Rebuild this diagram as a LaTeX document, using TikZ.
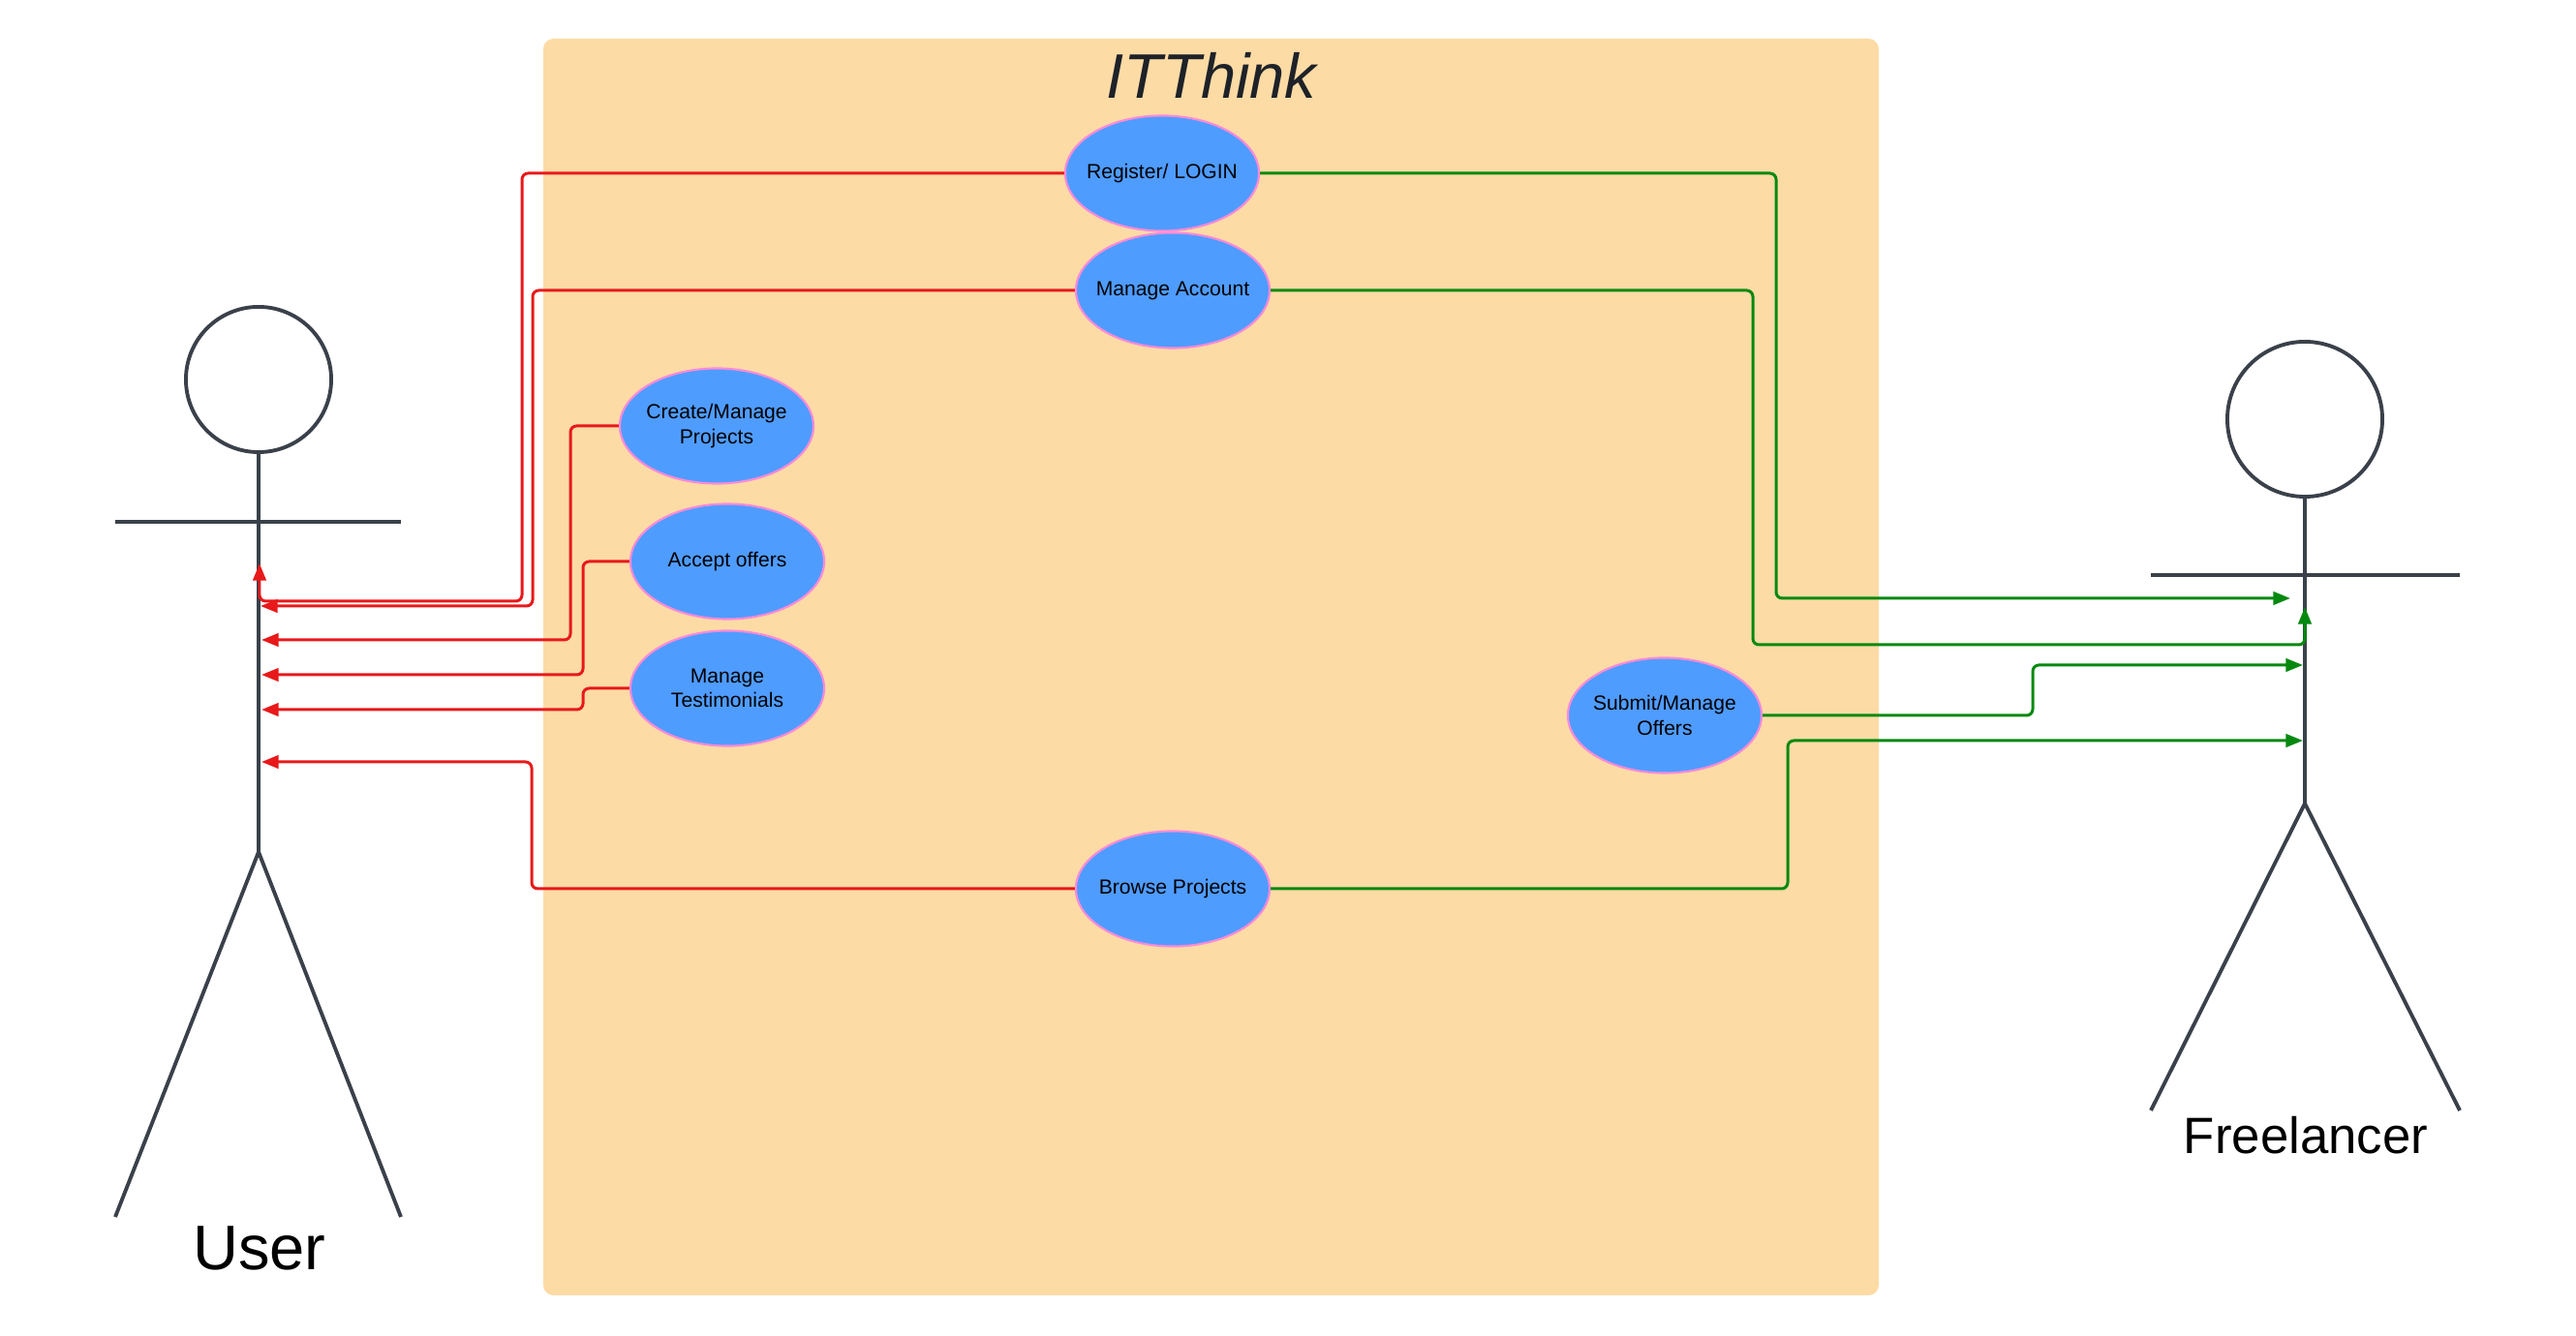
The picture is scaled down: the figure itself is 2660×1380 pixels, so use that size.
\documentclass[tikz,border=0pt]{standalone}
\usepackage{fontspec}
\setmainfont{Liberation Sans}
\usetikzlibrary{arrows.meta,shapes.geometric,positioning}
\definecolor{boxorange}{HTML}{FDDBA5}
\definecolor{caseblue}{HTML}{4F9CFF}
\definecolor{casepink}{HTML}{FF8AD8}
\definecolor{userred}{HTML}{E8191A}
\definecolor{freegreen}{HTML}{04890F}
\definecolor{actorgray}{HTML}{3A414A}
\definecolor{titlegray}{HTML}{1E2228}
\tikzset{
  usecase/.style={ellipse,draw=casepink,line width=0.6pt,fill=caseblue,minimum width=2cm,minimum height=1.19cm,inner xsep=-4pt,inner ysep=0pt,align=center,font=\fontsize{6}{7.2}\selectfont},
  userlink/.style={userred,line width=0.85pt,rounded corners=1.8pt,-{Triangle[length=5pt,width=3.8pt]}},
  freelink/.style={freegreen,line width=0.85pt,rounded corners=1.8pt,-{Triangle[length=5pt,width=3.8pt]}},
  actor/.style={actorgray,line width=1.1pt},
}

\begin{document}
\begin{tikzpicture}[x=0.01cm,y=-0.01cm]
  \useasboundingbox (0,0) rectangle (2660,1380);
  \fill[boxorange,rounded corners=3pt] (561,40) rectangle (1940,1338);
  \node[anchor=base,text=titlegray,font=\fontsize{18.5}{22}\selectfont\itshape] (title) at (1251,102) {ITThink};

  % user
  \draw[actor] (267,392) circle[radius=0.75cm];
  \draw[actor] (267,467) -- (267,880);
  \draw[actor] (119,539) -- (414,539);
  \draw[actor] (119,1257) -- (267,880) -- (414,1257);
  \node[anchor=base,font=\fontsize{18.5}{22}\selectfont] (userlbl) at (268,1312) {User};

  % freelancer
  \draw[actor] (2380,433) circle[radius=0.8cm];
  \draw[actor] (2380,513) -- (2380,830);
  \draw[actor] (2221,594) -- (2540,594);
  \draw[actor] (2221,1147) -- (2380,830) -- (2540,1147);
  \node[anchor=base,font=\fontsize{15}{18}\selectfont] (freelbl) at (2381,1192) {Freelancer};

  \coordinate (ureg) at (268,582);
  \coordinate (uacc) at (269,626);
  \coordinate (uproj) at (270,661);
  \coordinate (uoffer) at (270,697);
  \coordinate (utest) at (270,733);
  \coordinate (ubrowse) at (270,787);
  \coordinate (freg) at (2365,618);
  \coordinate (facc) at (2380,627);
  \coordinate (fsub) at (2378,687);
  \coordinate (fbrowse) at (2378,765);

  \node[usecase] (reg) at (1200,179) {Register/ LOGIN};
  \node[usecase] (acc) at (1211,300) {Manage Account};
  \node[usecase] (proj) at (740,440) {Create/Manage\\Projects};
  \node[usecase] (offer) at (751,580) {Accept offers};
  \node[usecase] (test) at (751,711) {Manage\\Testimonials};
  \node[usecase] (submit) at (1719,739) {Submit/Manage\\Offers};
  \node[usecase] (browse) at (1211,918) {Browse Projects};

  \draw[userlink] (reg.west) -| (539,621) -| (ureg);
  \draw[userlink] (acc.west) -| (550,626) -- (uacc);
  \draw[userlink] (proj.west) -| (589,661) -- (uproj);
  \draw[userlink] (offer.west) -| (602,697) -- (uoffer);
  \draw[userlink] (test.west) -| (602,733) -- (utest);
  \draw[userlink] (browse.west) -| (549,787) -- (ubrowse);

  \draw[freelink] (reg.east) -| (1834,618) -- (freg);
  \draw[freelink] (acc.east) -| (1810,666) -| (facc);
  \draw[freelink] (submit.east) -| (2099,687) -- (fsub);
  \draw[freelink] (browse.east) -| (1846,765) -- (fbrowse);
\end{tikzpicture}
\end{document}
